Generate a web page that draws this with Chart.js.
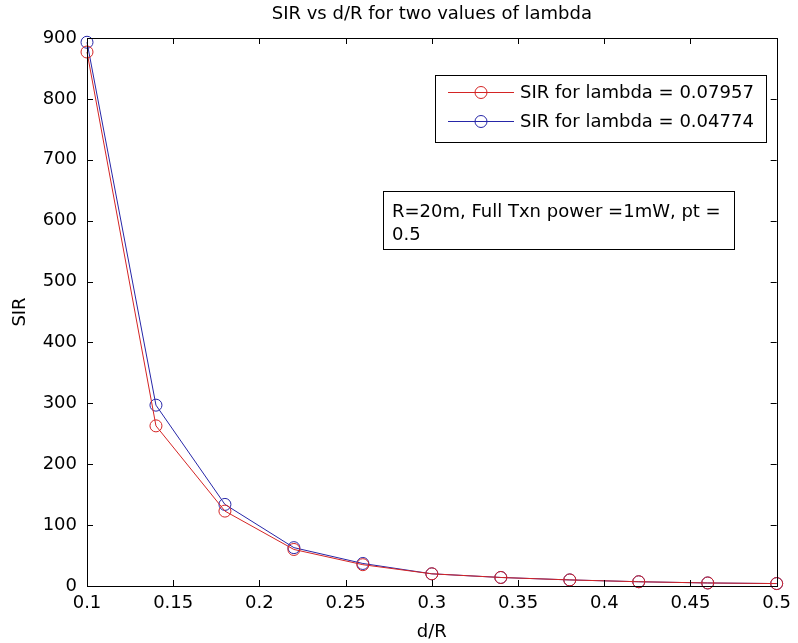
<!DOCTYPE html>
<html>
<head>
<meta charset="utf-8">
<script src="https://cdn.jsdelivr.net/npm/chart.js@4/dist/chart.umd.min.js"></script>
<style>
  html, body { margin: 0; padding: 0; background: #fff; }
  #wrap { width: 798px; height: 643px; position: relative; }
</style>
</head>
<body>
<div id="wrap"><canvas id="c" width="798" height="643"></canvas></div>
<script>
// d/R sample positions
const dOverR = [0.1, 0.14, 0.18, 0.22, 0.26, 0.3, 0.34, 0.38, 0.42, 0.46, 0.5];
// SIR for lambda = 0.07957
const sirLambdaA = [877, 263, 123, 60, 35, 20, 14, 10, 7, 5, 4];
// SIR for lambda = 0.04774
const sirLambdaB = [893, 297, 134, 63, 37, 20, 14, 10, 7, 5, 4];
const seriesNames = ['SIR for lambda = 0.07957', 'SIR for lambda = 0.04774'];
const xTicks = [0.1, 0.15, 0.2, 0.25, 0.3, 0.35, 0.4, 0.45, 0.5];
const yTicks = [0, 100, 200, 300, 400, 500, 600, 700, 800, 900];
const titleText = 'SIR vs d/R for two values of lambda';
const xTitle = 'd/R';
const yTitle = 'SIR';
const noteLines = ['R=20m, Full Txn power =1mW, pt =', '0.5'];

const RED = '#d42424';
const BLUE = '#2626a8';
const FAMILY = '"DejaVu Sans", Verdana, sans-serif';
const FONT = '18px ' + FAMILY;

const toPts = (xs, ys) => xs.map((x, i) => ({ x, y: ys[i] }));

const decor = {
  id: 'decor',
  afterDraw(chart) {
    const ctx = chart.ctx;
    const a = chart.chartArea;
    const xs = chart.scales.x, ys = chart.scales.y;
    ctx.save();
    ctx.strokeStyle = '#000';
    ctx.lineWidth = 1;
    // axes box
    ctx.strokeRect(Math.round(a.left) + 0.5, Math.round(a.top) + 0.5,
                   Math.round(a.right - a.left), Math.round(a.bottom - a.top));
    // inward ticks on all four sides
    const tl = 6;
    ctx.beginPath();
    xTicks.forEach(v => {
      const px = Math.round(xs.getPixelForValue(v)) + 0.5;
      ctx.moveTo(px, a.bottom); ctx.lineTo(px, a.bottom - tl);
      ctx.moveTo(px, a.top); ctx.lineTo(px, a.top + tl);
    });
    yTicks.forEach(v => {
      const py = Math.round(ys.getPixelForValue(v)) + 0.5;
      ctx.moveTo(a.left, py); ctx.lineTo(a.left + tl, py);
      ctx.moveTo(a.right, py); ctx.lineTo(a.right - tl, py);
    });
    ctx.stroke();

    ctx.fillStyle = '#000';
    ctx.font = FONT;
    // title
    ctx.textAlign = 'center';
    ctx.textBaseline = 'middle';
    ctx.fillText(titleText, (a.left + a.right) / 2, 14);
    // x axis title
    ctx.fillText(xTitle, (a.left + a.right) / 2, 632);
    // y axis title
    ctx.save();
    ctx.translate(20, (a.top + a.bottom) / 2);
    ctx.rotate(-Math.PI / 2);
    ctx.fillText(yTitle, 0, 0);
    ctx.restore();

    // legend box
    const lx = 435, ly = 75, lw = 331, lh = 67;
    ctx.fillStyle = '#fff';
    ctx.fillRect(lx, ly, lw, lh);
    ctx.strokeRect(lx + 0.5, ly + 0.5, lw, lh);
    const colors = [RED, BLUE];
    seriesNames.forEach((name, i) => {
      const yy = ly + 17 + i * 29;
      ctx.strokeStyle = colors[i];
      ctx.beginPath();
      ctx.moveTo(lx + 13, yy + 0.5); ctx.lineTo(lx + 79, yy + 0.5);
      ctx.stroke();
      ctx.beginPath();
      ctx.arc(lx + 46, yy + 0.5, 6, 0, Math.PI * 2);
      ctx.stroke();
      ctx.fillStyle = '#000';
      ctx.textAlign = 'left';
      ctx.font = FONT;
      ctx.fillText(name, lx + 85, yy + 1);
    });

    // annotation box (fixed width, text wraps to a second line)
    ctx.font = FONT;
    const nx = 383, ny = 191, nh = 58;
    const nw = Math.ceil(ctx.measureText(noteLines[0]).width) + 22;
    ctx.strokeStyle = '#000';
    ctx.fillStyle = '#fff';
    ctx.fillRect(nx, ny, nw, nh);
    ctx.strokeRect(nx + 0.5, ny + 0.5, nw, nh);
    ctx.fillStyle = '#000';
    ctx.textAlign = 'left';
    noteLines.forEach((t, i) => ctx.fillText(t, nx + 9, ny + 21 + i * 23));
    ctx.restore();
  }
};

new Chart(document.getElementById('c'), {
  type: 'line',
  data: {
    datasets: [
      { label: seriesNames[0], data: toPts(dOverR, sirLambdaA), borderColor: RED,
        pointBorderColor: RED, backgroundColor: 'rgba(0,0,0,0)', clip: false },
      { label: seriesNames[1], data: toPts(dOverR, sirLambdaB), borderColor: BLUE,
        pointBorderColor: BLUE, backgroundColor: 'rgba(0,0,0,0)', clip: false }
    ]
  },
  options: {
    responsive: false,
    animation: false,
    devicePixelRatio: 1,
    layout: { padding: { top: 38, right: 15, left: 0, bottom: 0 } },
    elements: {
      line: { borderWidth: 1, tension: 0 },
      point: { radius: 6, borderWidth: 1, pointStyle: 'circle', backgroundColor: 'rgba(0,0,0,0)' }
    },
    plugins: { legend: { display: false }, title: { display: false }, tooltip: { enabled: false } },
    scales: {
      x: {
        type: 'linear', min: 0.1, max: 0.5,
        afterBuildTicks: s => { s.ticks = xTicks.map(v => ({ value: v })); },
        afterFit: s => { s.height = 57; },
        grid: { display: false, drawTicks: false },
        border: { display: false },
        ticks: { color: '#000', font: { family: FAMILY, size: 18 },
                 padding: 7, maxRotation: 0, autoSkip: false, callback: v => String(v) }
      },
      y: {
        type: 'linear', min: 0, max: 900,
        afterBuildTicks: s => { s.ticks = yTicks.map(v => ({ value: v })); },
        afterFit: s => { s.width = 87; },
        grid: { display: false, drawTicks: false },
        border: { display: false },
        ticks: { color: '#000', font: { family: FAMILY, size: 18 },
                 padding: 10, autoSkip: false, callback: v => String(v) }
      }
    }
  },
  plugins: [decor]
});
</script>
</body>
</html>
